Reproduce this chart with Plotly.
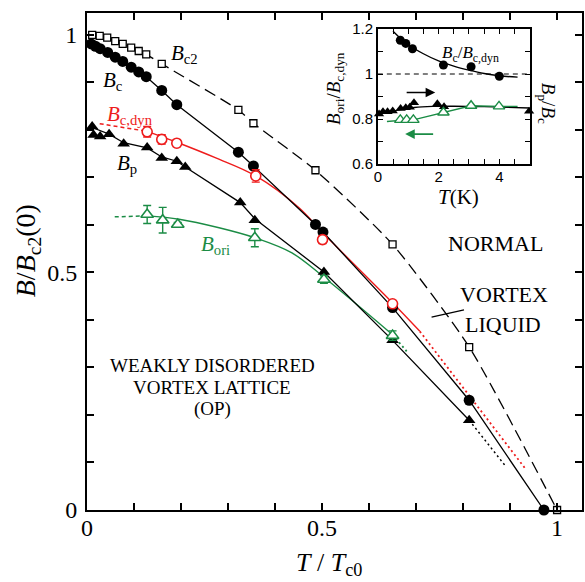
import plotly.graph_objects as go

# ---------------- main panel data (T/Tc0, B/Bc2(0)) ----------------
bc2_t = [0.011, 0.027, 0.043, 0.060, 0.076, 0.094, 0.110, 0.126, 0.159, 0.322, 0.354, 0.486, 0.650, 0.813, 1.000]
bc2_b = [1.000, 0.998, 0.994, 0.987, 0.981, 0.973, 0.966, 0.959, 0.939, 0.842, 0.814, 0.715, 0.559, 0.343, 0.0]

bc_t = [0.009, 0.018, 0.028, 0.044, 0.060, 0.076, 0.094, 0.110, 0.126, 0.159, 0.191, 0.322, 0.354, 0.486, 0.502, 0.650, 0.813, 0.972]
bc_b = [0.981, 0.976, 0.971, 0.963, 0.953, 0.944, 0.932, 0.922, 0.912, 0.883, 0.853, 0.753, 0.724, 0.601, 0.585, 0.426, 0.231, 0.0]

bcdyn_t = [0.128, 0.159, 0.191, 0.359, 0.501, 0.650]
bcdyn_b = [0.796, 0.780, 0.772, 0.703, 0.569, 0.434]
bcdyn_err = [0.011, 0.010, 0.007, 0.013, 0.008, 0.006]
bcdyn_fit_t = [0.128, 0.191, 0.274, 0.359, 0.451, 0.502, 0.650, 0.708]
bcdyn_fit_b = [0.797, 0.774, 0.741, 0.703, 0.636, 0.583, 0.436, 0.376]
bcdyn_low_t = [0.027, 0.128]
bcdyn_low_b = [0.813, 0.797]
bcdyn_ext_t = [0.708, 0.934]
bcdyn_ext_b = [0.376, 0.085]

bp_t = [0.011, 0.014, 0.028, 0.047, 0.078, 0.128, 0.159, 0.191, 0.209, 0.326, 0.357, 0.504, 0.650, 0.813]
bp_b = [0.807, 0.789, 0.786, 0.791, 0.771, 0.763, 0.741, 0.734, 0.722, 0.647, 0.610, 0.501, 0.357, 0.189]
bp_line_t = [0.011, 0.047, 0.078, 0.128, 0.159, 0.191, 0.209, 0.326, 0.357, 0.504, 0.650, 0.813]
bp_line_b = [0.805, 0.791, 0.773, 0.762, 0.743, 0.734, 0.722, 0.647, 0.613, 0.501, 0.357, 0.189]
bp_ext_t = [0.813, 0.889]
bp_ext_b = [0.189, 0.094]

bori_t = [0.128, 0.161, 0.193, 0.357, 0.504, 0.650]
bori_b = [0.622, 0.610, 0.601, 0.573, 0.485, 0.367]
bori_err = [0.019, 0.027, 0.004, 0.019, 0.008, 0.010]
bori_fit_t = [0.128, 0.196, 0.281, 0.357, 0.436, 0.504, 0.650]
bori_fit_b = [0.619, 0.612, 0.594, 0.573, 0.541, 0.490, 0.369]
bori_low_t = [0.059, 0.128]
bori_low_b = [0.617, 0.619]
bori_ext_t = [0.650, 0.680]
bori_ext_b = [0.369, 0.334]

# pointer line for "VORTEX LIQUID"
liquid_ptr_t = [0.733, 0.802]
liquid_ptr_b = [0.406, 0.421]

# ---------------- inset data (T in K) ----------------
in_c_t = [0.74, 0.92, 1.14, 2.16, 3.07, 4.00]
in_c_r = [1.150, 1.136, 1.112, 1.040, 1.032, 0.990]
in_cfit_t = [0.5, 0.75, 1.0, 1.5, 2.0, 2.5, 3.0, 3.5, 4.0, 4.6]
in_cfit_r = [1.19, 1.158, 1.13, 1.09, 1.058, 1.035, 1.017, 1.002, 0.992, 0.986]

in_p_t = [0.04, 0.17, 0.32, 0.49, 0.75, 0.92, 1.05, 1.19, 1.96, 2.18, 4.98]
in_p_r = [0.822, 0.832, 0.832, 0.836, 0.847, 0.850, 0.852, 0.872, 0.868, 0.855, 0.834]
in_pfit_t = [0.0, 0.4, 0.8, 1.2, 1.8, 2.5, 3.5, 5.0]
in_pfit_r = [0.820, 0.832, 0.843, 0.851, 0.856, 0.857, 0.855, 0.849]

in_o_t = [0.74, 0.95, 1.17, 2.16, 3.07, 3.99]
in_o_r = [0.796, 0.796, 0.796, 0.829, 0.859, 0.856]
in_oline_t = [0.30, 0.74, 0.95, 1.17, 2.16, 3.07, 3.99, 4.6]
in_oline_r = [0.789, 0.796, 0.796, 0.796, 0.829, 0.859, 0.856, 0.856]

in_ref_t = [0, 5]
in_ref_r = [1.0, 1.0]

main_ticks = [0, 0.1, 0.2, 0.3, 0.4, 0.5, 0.6, 0.7, 0.8, 0.9, 1.0]
main_ticktext = ['0', ' ', ' ', ' ', ' ', '0.5', ' ', ' ', ' ', ' ', '1']
in_xticks = [0, 0.5, 1, 1.5, 2, 2.5, 3, 3.5, 4, 4.5, 5]
in_xticktext = ['0', ' ', ' ', ' ', '2', ' ', ' ', ' ', '4', ' ', ' ']
in_yticks = [0.6, 0.7, 0.8, 0.9, 1.0, 1.1, 1.2]
in_yticktext = ['0.6', ' ', '0.8', ' ', '1', ' ', '1.2']

RED = '#ee1c1c'
GREEN = '#1b8c45'
SERIF = 'Liberation Serif, Times New Roman, Times, serif'
SANS = 'Liberation Sans, Arial, Helvetica, sans-serif'

fig = go.Figure()

def line(x, y, color, dash='solid', width=1.3, shape='linear', xa='x', ya='y'):
    fig.add_trace(go.Scatter(x=x, y=y, mode='lines', xaxis=xa, yaxis=ya,
                             line=dict(color=color, dash=dash, width=width, shape=shape),
                             hoverinfo='skip', cliponaxis=False))

# main fits / extrapolations
line(bcdyn_low_t, bcdyn_low_b, RED, dash='4px,3px', width=1.5)
line(bcdyn_fit_t, bcdyn_fit_b, RED, width=1.4, shape='spline')
line(bcdyn_ext_t, bcdyn_ext_b, RED, dash='2px,3px', width=1.8)
line(bori_low_t, bori_low_b, GREEN, dash='4px,3px', width=1.5)
line(bori_fit_t, bori_fit_b, GREEN, width=1.4, shape='spline')
line(bori_ext_t, bori_ext_b, GREEN, dash='2px,3px', width=1.8)
line(bp_line_t, bp_line_b, 'black', width=1.3)
line(bp_ext_t, bp_ext_b, 'black', dash='2px,3px', width=1.5)
line(liquid_ptr_t, liquid_ptr_b, 'black', width=1.2)

# Bc2
fig.add_trace(go.Scatter(x=bc2_t, y=bc2_b, mode='lines+markers', cliponaxis=False,
                         line=dict(color='black', width=1.3, dash='12px,6px', shape='spline', smoothing=0.6),
                         marker=dict(symbol='square', size=7, color='white', line=dict(color='black', width=1.3))))
# Bc
fig.add_trace(go.Scatter(x=bc_t, y=bc_b, mode='lines+markers', cliponaxis=False,
                         line=dict(color='black', width=1.3),
                         marker=dict(symbol='circle', size=11, color='black')))
# Bp
fig.add_trace(go.Scatter(x=bp_t, y=bp_b, mode='markers', cliponaxis=False,
                         marker=dict(symbol='triangle-up', size=11, color='black')))
# Bc,dyn
fig.add_trace(go.Scatter(x=bcdyn_t, y=bcdyn_b, mode='markers', cliponaxis=False,
                         error_y=dict(type='data', array=bcdyn_err, color=RED, thickness=1.4, width=4),
                         marker=dict(symbol='circle', size=10, color='white', line=dict(color=RED, width=1.6))))
# Bori
fig.add_trace(go.Scatter(x=bori_t, y=bori_b, mode='markers', cliponaxis=False,
                         error_y=dict(type='data', array=bori_err, color=GREEN, thickness=1.4, width=4),
                         marker=dict(symbol='triangle-up', size=11, color='white', line=dict(color=GREEN, width=1.6))))

# inset
line(in_ref_t, in_ref_r, 'black', dash='5px,4px', width=1.0, xa='x2', ya='y2')
line(in_cfit_t, in_cfit_r, 'black', width=1.4, shape='spline', xa='x2', ya='y2')
line(in_pfit_t, in_pfit_r, 'black', width=1.4, shape='spline', xa='x2', ya='y2')
line(in_oline_t, in_oline_r, GREEN, width=1.4, xa='x2', ya='y2')
fig.add_trace(go.Scatter(x=in_c_t, y=in_c_r, mode='markers', xaxis='x2', yaxis='y2', cliponaxis=False,
                         marker=dict(symbol='circle', size=9, color='black')))
fig.add_trace(go.Scatter(x=in_p_t, y=in_p_r, mode='markers', xaxis='x2', yaxis='y2', cliponaxis=False,
                         marker=dict(symbol='triangle-up', size=9, color='black')))
fig.add_trace(go.Scatter(x=in_o_t, y=in_o_r, mode='markers', xaxis='x2', yaxis='y2', cliponaxis=False,
                         marker=dict(symbol='triangle-up', size=10, color='white', line=dict(color=GREEN, width=1.4))))

# ---------------- layout ----------------
L, R, T, B = 87, 1, 13, 72
W, H = 585, 582
pw, ph = W - L - R, H - T - B

def px(x):
    return (x - L) / pw

def py(y):
    return (H - B - y) / ph

main_axis = dict(showline=True, linewidth=2, linecolor='black', mirror='ticks',
                 ticks='inside', ticklen=7, tickwidth=1.5, tickcolor='black',
                 showgrid=False, zeroline=False,
                 tickfont=dict(family=SERIF, size=24, color='black'))
inset_axis = dict(showline=True, linewidth=1.5, linecolor='black', mirror='ticks',
                  ticks='inside', ticklen=5, tickwidth=1.2, tickcolor='black',
                  showgrid=False, zeroline=False,
                  tickfont=dict(family=SANS, size=15, color='black'))

fig.update_layout(
    width=W, height=H,
    margin=dict(l=L, r=R, t=T, b=B),
    paper_bgcolor='white', plot_bgcolor='white',
    showlegend=False,
    xaxis=dict(main_axis, range=[0, 1.053], tickvals=main_ticks, ticktext=main_ticktext,
               ticklabelstandoff=-5),
    yaxis=dict(main_axis, range=[0, 1.046], tickvals=main_ticks, ticktext=main_ticktext,
               ticklabelstandoff=3),
    xaxis2=dict(inset_axis, domain=[px(379), px(531.5)], anchor='y2', range=[0, 5],
                tickvals=in_xticks, ticktext=in_xticktext, ticklabelstandoff=-2),
    yaxis2=dict(inset_axis, domain=[py(164), py(29)], anchor='x2', range=[0.6, 1.2],
                tickvals=in_yticks, ticktext=in_yticktext),
)

ann = []

def text(x, y, s, size, color='black', xanchor='center', angle=0, family=SERIF):
    ann.append(dict(x=px(x), y=py(y), xref='paper', yref='paper', text=s, showarrow=False,
                    xanchor=xanchor, yanchor='middle', textangle=angle,
                    font=dict(family=family, size=size, color=color)))

# axis titles
text(27, 251, '<i>B</i>/<i>B</i><sub>c2</sub>(0)', 28, angle=-90)
text(330, 564, '<i>T</i> / <i>T</i><sub>c0</sub>', 26)

# curve labels
text(169, 54, '<i>B</i><sub>c2</sub>', 21, xanchor='left')
text(101, 81, '<i>B</i><sub>c</sub>', 21, xanchor='left')
text(105, 115, '<i>B</i><sub>c,dyn</sub>', 21, color=RED, xanchor='left')
text(115, 164, '<i>B</i><sub>p</sub>', 21, xanchor='left')
text(199, 245, '<i>B</i><sub>ori</sub>', 21, color=GREEN, xanchor='left')

# regions
text(497, 243, 'NORMAL', 22)
text(506, 295, 'VORTEX', 22)
text(505, 324, 'LIQUID', 22)
text(213, 365, 'WEAKLY DISORDERED', 19)
text(213, 387, 'VORTEX LATTICE', 19)
text(213, 409, '(OP)', 19)

# inset labels
text(472, 54, '<i>B</i><sub>c</sub>/<i>B</i><sub>c,dyn</sub>', 17)
text(336, 88, '<i>B</i><sub>ori</sub>/<i>B</i><sub>c,dyn</sub>', 19, angle=-90)
text(549, 103, '<i>B</i><sub>p</sub>/<i>B</i><sub>c</sub>', 19, angle=90)
text(460, 197, '<i>T</i>(K)', 21)

# inset arrows
ann.append(dict(x=1.89, y=0.918, ax=0.90, ay=0.918, xref='x2', yref='y2', axref='x2', ayref='y2',
                showarrow=True, arrowhead=2, arrowsize=1.2, arrowwidth=1.6, arrowcolor='black', text=''))
ann.append(dict(x=0.90, y=0.733, ax=1.87, ay=0.733, xref='x2', yref='y2', axref='x2', ayref='y2',
                showarrow=True, arrowhead=2, arrowsize=1.2, arrowwidth=1.6, arrowcolor=GREEN, text=''))

fig.update_layout(annotations=ann)

fig.write_html('out.html')
